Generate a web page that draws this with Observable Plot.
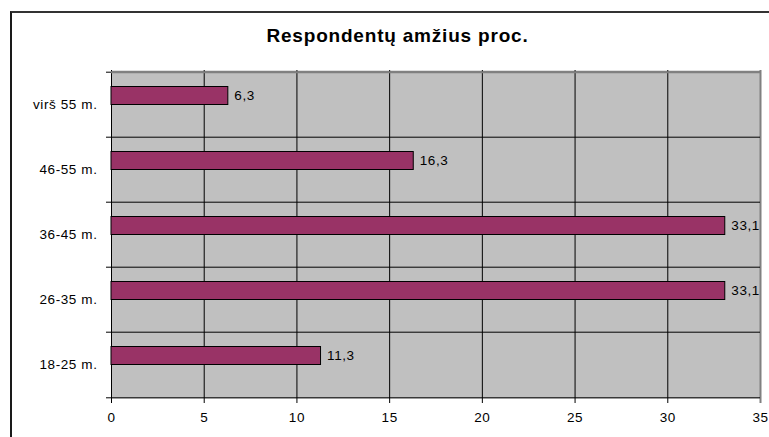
<!DOCTYPE html>
<html><head><meta charset="utf-8">
<script src="https://cdn.jsdelivr.net/npm/d3@7"></script>
<script src="https://cdn.jsdelivr.net/npm/@observablehq/plot@0.6"></script>
<style>
body{margin:0;background:#fff;}
#wrap{position:relative;width:769px;height:437px;overflow:hidden;font-family:"Liberation Sans",Arial,sans-serif;}
#border{position:absolute;left:10px;top:11px;width:800px;height:500px;border-left:2px solid #1a1a1a;border-top:2px solid #333;}
#title{position:absolute;left:0;width:795px;top:26px;line-height:19px;text-align:center;font-weight:bold;font-size:19px;letter-spacing:0.8px;color:#000;}
#chart{position:absolute;left:0;top:0;}
</style></head><body>
<div id="wrap"><div id="border"></div><div id="title">Respondentų amžius proc.</div><div id="chart"></div></div>
<script>
const categories = ["virš 55 m.", "46-55 m.", "36-45 m.", "26-35 m.", "18-25 m."];
const values = [6.3, 16.3, 33.1, 33.1, 11.3];
const xTicks = [0, 5, 10, 15, 20, 25, 30, 35];

const H = 437, MT = 70, MB = 39, ML = 111, MR = 9;
const half = (H - MT - MB) / categories.length / 2;
const data = categories.map((c, i) => ({category: c, value: values[i]}));
const fmt = v => v.toFixed(1).replace(".", ",");

const plot = Plot.plot({
  width: 769, height: H,
  marginTop: MT, marginBottom: MB, marginLeft: ML, marginRight: MR,
  x: {domain: [0, 35], label: null},
  y: {domain: categories, padding: 0, label: null},
  style: {fontFamily: "'Liberation Sans', Arial, sans-serif", fontSize: "13.5px", letterSpacing: "0.6px", background: "transparent", color: "#000", overflow: "visible"},
  marks: [
    Plot.frame({fill: "#c0c0c0", stroke: null}),
    Plot.ruleX(xTicks.slice(0, -1), {stroke: "#000", insetBottom: -5}),
    Plot.ruleX(xTicks.slice(-1), {stroke: "#808080", strokeWidth: 2, insetBottom: -5}),
    Plot.ruleY(categories, {x1: 0, x2: 35, dy: -half, insetLeft: -5, stroke: "#000"}),
    Plot.ruleY(categories.slice(-1), {x1: 0, x2: 35, dy: half, insetLeft: -5, stroke: "#000"}),
    Plot.ruleY(categories.slice(0, 1), {x1: 0, x2: 35, dy: -half, stroke: "#808080", strokeWidth: 2}),
    Plot.barX(data, {x: "value", y: "category", fill: "#993366", stroke: "#000", insetTop: 14.5, insetBottom: 32.5}),
    Plot.text(data, {x: "value", y: "category", text: d => fmt(d.value), dx: 6, dy: -9, textAnchor: "start", fill: "#000"}),
    Plot.axisY({tickSize: 0, tickPadding: 14}),
    Plot.axisX({ticks: xTicks, tickSize: 0, tickPadding: 14})
  ]
});
document.getElementById("chart").appendChild(plot);
</script>
</body></html>
